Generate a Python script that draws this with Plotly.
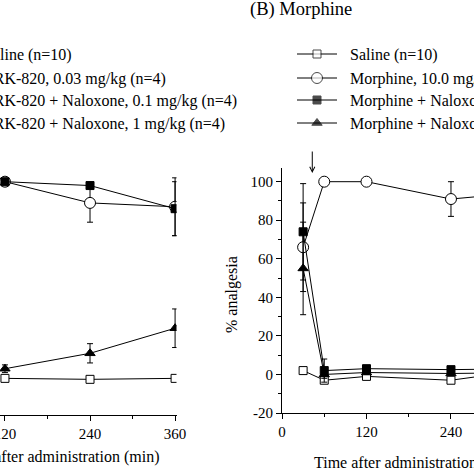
import plotly.graph_objects as go

# ---------------- data ----------------
# Panel A (TRK-820), visible part only
time_a = [120, 240, 360]
a_saline = [-2, -2.5, -2]
a_trk = [100, 89, 87]
a_trk_err = [0, 10, 15]
a_nal01 = [100, 98, 86]
a_nal01_err = [0, 0, 14]
a_nal1 = [3, 11, 24]
a_nal1_err = [2, 5, 10]

# Panel B (Morphine)
time_b = [30, 60, 120, 240, 360]
b_saline = [2, -3, -1, -3, 3]
b_morph = [66, 100, 100, 91, 95]
b_morph_err = [23, 0, 0, 9, 5]
b_nal01 = [74, 2, 3, 2.5, 3]
b_nal01_err = [25, 6, 1, 1, 1]
b_nal1 = [55, 0, 1, 0.5, 1]
b_nal1_err = [24, 2, 1, 1, 1]

legend_a = ["Saline (n=10)", "TRK-820, 0.03 mg/kg (n=4)",
            "TRK-820 + Naloxone, 0.1 mg/kg (n=4)", "TRK-820 + Naloxone, 1 mg/kg (n=4)"]
legend_b = ["Saline (n=10)", "Morphine, 10.0 mg/kg (n=4)",
            "Morphine + Naloxone, 0.1 mg/kg (n=4)", "Morphine + Naloxone, 1 mg/kg (n=4)"]

y_tickvals = [-20, 0, 20, 40, 60, 80, 100]
y_ticktext = ["-20", "0", "20", "40", "60", "80", "100"]
x_tickvals = [0, 120, 240, 360]
x_ticktext = ["0", "120", "240", "360"]

W = H = 474
FONT = "Liberation Serif"

# marker styles: saline, drug, +nal 0.1, +nal 1
styles = [
    dict(symbol="square", size=8, color="white", line=dict(color="black", width=1)),
    dict(symbol="circle", size=11, color="white", line=dict(color="black", width=1)),
    dict(symbol="square", size=8, color="black", line=dict(color="black", width=1)),
    dict(symbol="triangle-up", size=9, color="black", line=dict(color="black", width=1)),
]

fig = go.Figure()

def add_series(x, y, err, style, xa, ya):
    fig.add_trace(go.Scatter(
        x=x, y=y, mode="lines+markers", xaxis=xa, yaxis=ya,
        line=dict(color="black", width=1), marker=style, showlegend=False,
        error_y=dict(type="data", array=err, visible=True,
                     color="black", thickness=1, width=3) if err is not None else None,
    ))

# Panel A
add_series(time_a, a_saline, None, styles[0], "x", "y")
add_series(time_a, a_trk, a_trk_err, styles[1], "x", "y")
add_series(time_a, a_nal1, a_nal1_err, styles[3], "x", "y")
add_series(time_a, a_nal01, a_nal01_err, styles[2], "x", "y")
# Panel B
add_series(time_b, b_saline, None, styles[0], "x2", "y2")
add_series(time_b, b_morph, b_morph_err, styles[1], "x2", "y2")
add_series(time_b, b_nal1, b_nal1_err, styles[3], "x2", "y2")
add_series(time_b, b_nal01, b_nal01_err, styles[2], "x2", "y2")

# legend samples for panel B (pixel overlay axes)
leg_y = [54, 78, 100, 123]
for yy, st in zip(leg_y, styles):
    st2 = dict(st)
    st2["size"] = [0, st["size"], 0]
    fig.add_trace(go.Scatter(
        x=[297, 317, 337], y=[yy, yy, yy], mode="lines+markers",
        xaxis="x3", yaxis="y3", line=dict(color="black", width=1),
        marker=st2, showlegend=False, cliponaxis=False, hoverinfo="skip"))

axis_common = dict(showgrid=False, zeroline=False, showline=True, linecolor="black",
                   linewidth=1, ticks="outside", tickcolor="black", ticklen=5,
                   ticklabeloverflow="allow", automargin=False,
                   tickfont=dict(family=FONT, size=15, color="black"))

fig.update_layout(
    width=W, height=H, autosize=False, margin=dict(l=0, r=0, t=0, b=0, pad=0, autoexpand=False),
    paper_bgcolor="white", plot_bgcolor="rgba(0,0,0,0)",
    showlegend=False,
    xaxis=dict(domain=[0, 176.5 / W], range=[113, 362], anchor="y",
               tickvals=x_tickvals, ticktext=x_ticktext,
               minor=dict(tickvals=[60, 180, 300], ticklen=3, ticks="outside", tickcolor="black"),
               **axis_common),
    yaxis=dict(domain=[(H - 415) / H, (H - 168.2) / H], range=[-21, 107], anchor="x",
               visible=False, automargin=False),
    xaxis2=dict(domain=[282 / W, 1], range=[0, 272.7], anchor="y2",
                tickvals=x_tickvals, ticktext=x_ticktext,
                minor=dict(tickvals=[60, 180, 300], ticklen=3, ticks="outside", tickcolor="black"),
                **axis_common),
    yaxis2=dict(domain=[(H - 413) / H, (H - 168.2) / H], range=[-20, 107], anchor="x2",
                tickvals=y_tickvals, ticktext=y_ticktext,
                minor=dict(tickvals=[-10, 10, 30, 50, 70, 90], ticklen=3, ticks="outside",
                           tickcolor="black"),
                **axis_common),
    xaxis3=dict(domain=[0, 1], range=[0, W], anchor="y3", visible=False, fixedrange=True,
                automargin=False),
    yaxis3=dict(domain=[0, 1], range=[H, 0], anchor="x3", visible=False, fixedrange=True,
                automargin=False),
)

ann = []
def txt(text, px, py, size=16, xanchor="center", angle=0):
    ann.append(dict(text=text, x=px / W, y=(H - py) / H, xref="paper", yref="paper",
                    xanchor=xanchor, yanchor="middle", showarrow=False, textangle=angle,
                    font=dict(family=FONT, size=size, color="black")))

txt("(B) Morphine", 300.5, 10, size=18.5)
for yy, t in zip(leg_y, legend_b):
    txt(t, 348, yy + 1, size=16, xanchor="left")
for yy, t in zip(leg_y, legend_a):
    txt(t, -18, yy + 1, size=16, xanchor="left")
txt("Time after administration (min)", 57.5, 457, size=16)
txt("Time after administration (min)", 415, 463, size=16)
txt("% analgesia", 232, 295, size=16, angle=-90)

ann.append(dict(x=43, y=104.5, xref="x2", yref="y2", ax=0, ay=-23, showarrow=True,
                arrowhead=5, arrowsize=1, arrowwidth=1, arrowcolor="black", text=""))

fig.update_layout(annotations=ann)

fig.write_html(
    "out.html",
    config={"displayModeBar": False, "staticPlot": True},
    post_script=("document.documentElement.style.margin='0';"
                 "document.documentElement.style.padding='0';"
                 "document.documentElement.style.overflow='hidden';"
                 "document.body.style.margin='0';document.body.style.padding='0';"
                 "document.body.style.overflow='hidden';"),
)
